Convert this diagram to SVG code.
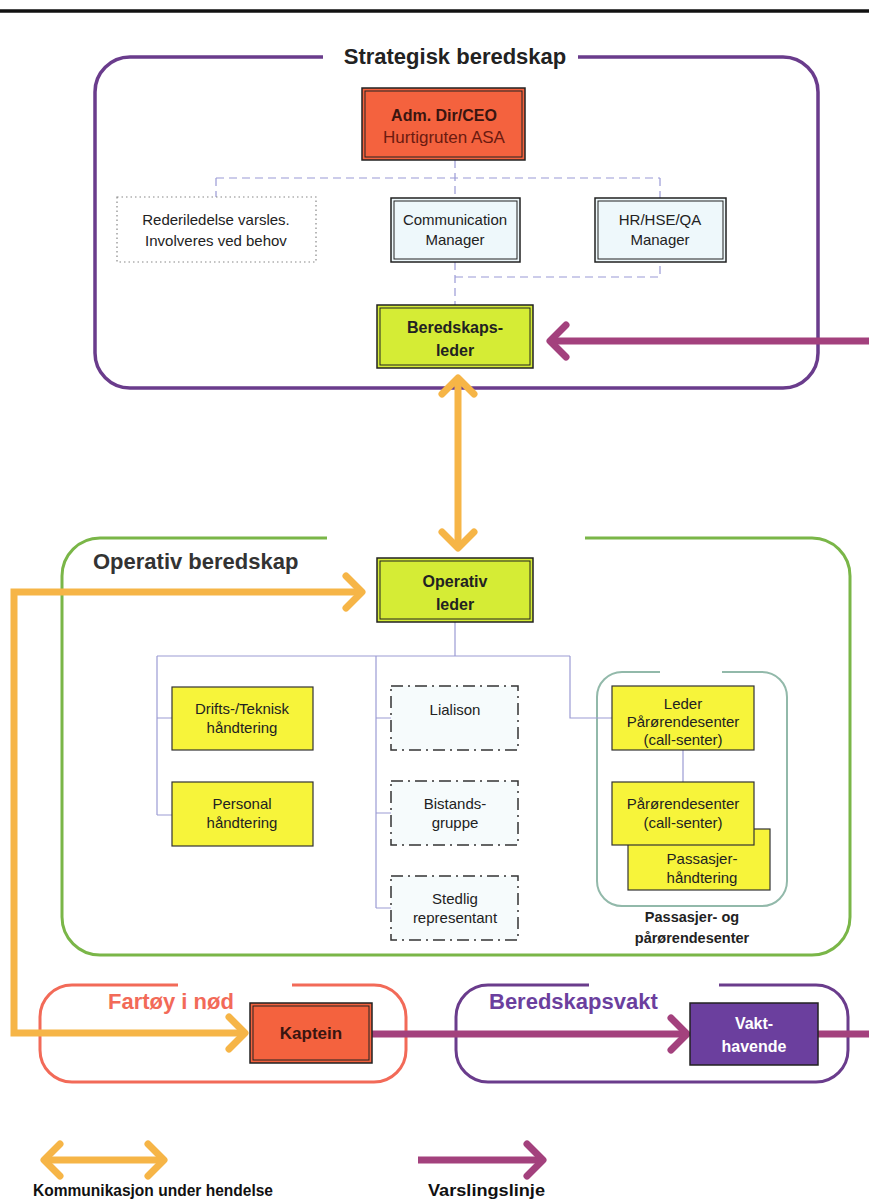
<svg xmlns="http://www.w3.org/2000/svg" width="869" height="1200" viewBox="0 0 869 1200">
<style>
text{font-family:"Liberation Sans",Arial,sans-serif;text-anchor:middle}
.t14{font-size:15px;fill:#222}
.b16{font-size:16px;font-weight:bold;fill:#222}
.title{font-size:22px;font-weight:bold}
.dbl{stroke:#222;stroke-width:1.5}
.inner{fill:none;stroke:#222;stroke-width:1}
.tree{fill:none;stroke:#9c9cd4;stroke-width:1.2}
.dash{fill:none;stroke:#9a9ad6;stroke-width:1.2;stroke-dasharray:8 5}
.orange{fill:none;stroke:#f6b547;stroke-width:7}
.magenta{fill:none;stroke:#a3417d;stroke-width:7}
.yellow{fill:#f7f43a;stroke:#333;stroke-width:1.2}
.dashdot{fill:#f6fbfc;stroke:#333;stroke-width:1.5;stroke-dasharray:12 5 2 5}
.lime{fill:#d5ec35}
.red{fill:#f4623e}
.lblue{fill:#eef8fb}
</style>
<defs>
<marker id="chevO" markerUnits="userSpaceOnUse" markerWidth="1" markerHeight="1" refX="0" refY="0" orient="auto-start-reverse" overflow="visible">
<path d="M-16 -16 L0 0 L-16 16" fill="none" stroke="#f6b547" stroke-width="7" stroke-linecap="round" stroke-linejoin="round"/>
</marker>
<marker id="chevM" markerUnits="userSpaceOnUse" markerWidth="1" markerHeight="1" refX="0" refY="0" orient="auto" overflow="visible">
<path d="M-16 -16 L0 0 L-16 16" fill="none" stroke="#a3417d" stroke-width="7" stroke-linecap="round" stroke-linejoin="round"/>
</marker>
</defs>
<rect width="869" height="1200" fill="#fff"/>
<line x1="0" y1="11" x2="869" y2="11" stroke="#111" stroke-width="3.5"/>

<g id="strategisk-beredskap">
<path d="M578 57 H783 A35 35 0 0 1 818 92 V353 A35 35 0 0 1 783 388 H130 A35 35 0 0 1 95 353 V92 A35 35 0 0 1 130 57 H323" fill="none" stroke="#6a3c8c" stroke-width="3.5"/>
<text class="title" x="455" y="64" fill="#222">Strategisk beredskap</text>
</g>
<g id="operativ-beredskap">
<path d="M585 538 H812 A38 38 0 0 1 850 576 V917 A38 38 0 0 1 812 955 H100 A38 38 0 0 1 62 917 V576 A38 38 0 0 1 100 538 H327" fill="none" stroke="#7ab648" stroke-width="3"/>
<text class="title" x="93" y="569" fill="#333" style="text-anchor:start">Operativ beredskap</text>
</g>
<g id="passasjer-gruppe">
<path d="M722 672 H762 A25 25 0 0 1 787 697 V881 A25 25 0 0 1 762 906 H622 A25 25 0 0 1 597 881 V697 A25 25 0 0 1 622 672 H660" fill="none" stroke="#92b9aa" stroke-width="2"/>
<text x="692" y="922" style="font-size:14.5px;font-weight:bold;fill:#222">Passasjer- og</text>
<text x="692" y="943" style="font-size:14.5px;font-weight:bold;fill:#222">pårørendesenter</text>
</g>
<g id="fartoy-i-nod">
<path d="M292 985 H374 A32 32 0 0 1 406 1017 V1050 A32 32 0 0 1 374 1082 H72 A32 32 0 0 1 40 1050 V1017 A32 32 0 0 1 72 985 H178" fill="none" stroke="#f26a58" stroke-width="3"/>
<text class="title" x="108" y="1009" fill="#f26a58" style="text-anchor:start">Fartøy i nød</text>
</g>
<g id="beredskapsvakt">
<path d="M719 985 H816 A32 32 0 0 1 848 1017 V1050 A32 32 0 0 1 816 1082 H488 A32 32 0 0 1 456 1050 V1017 A32 32 0 0 1 488 985 H589" fill="none" stroke="#6a3c8c" stroke-width="3"/>
<text class="title" x="489" y="1009" fill="#6b3f9e" style="text-anchor:start">Beredskapsvakt</text>
</g>

<g id="connectors">
<path class="dash" d="M455 160 V198 M216 178 H660 M216 178 V197 M660 178 V198 M455 262 V305 M455 277 H660 V262"/>
<path class="tree" d="M455 622 V656 M157 656 H570 M157 656 V815 M157 718 H172 M157 815 H172 M376 656 V908 M376 718 H391 M376 813 H391 M376 908 H391 M570 656 V718 H612 M683 750 V782"/>
<path class="orange" d="M458 378 V548" marker-start="url(#chevO)" marker-end="url(#chevO)"/>
<path class="orange" d="M362 592 H14 V1033 H245" marker-start="url(#chevO)" marker-end="url(#chevO)" stroke-linejoin="miter"/>
<path class="magenta" d="M880 341 H550" marker-end="url(#chevM)"/>
<path class="magenta" d="M372 1034 H687" marker-end="url(#chevM)"/>
<path class="magenta" d="M818 1034 H880"/>
</g>

<g id="ceo">
<rect class="red dbl" x="362" y="88" width="163" height="72"/>
<rect class="inner" x="365" y="91" width="157" height="66"/>
<text class="b16" x="444" y="121" style="fill:#3a1510">Adm. Dir/CEO</text>
<text x="444" y="143" style="font-size:17px;fill:#6b1a10">Hurtigruten ASA</text>
</g>
<g id="rederiledelse">
<rect x="117" y="197" width="199" height="65" fill="#fff" stroke="#888" stroke-width="1.2" stroke-dasharray="1.5 3"/>
<text class="t14" x="216" y="225">Rederiledelse varsles.</text>
<text class="t14" x="216" y="246">Involveres ved behov</text>
</g>
<g id="communication-manager">
<rect class="lblue dbl" x="391" y="198" width="129" height="64"/>
<rect class="inner" x="394" y="201" width="123" height="58"/>
<text class="t14" x="455" y="225">Communication</text>
<text class="t14" x="455" y="245">Manager</text>
</g>
<g id="hr-manager">
<rect class="lblue dbl" x="595" y="198" width="131" height="64"/>
<rect class="inner" x="598" y="201" width="125" height="58"/>
<text class="t14" x="660" y="225">HR/HSE/QA</text>
<text class="t14" x="660" y="245">Manager</text>
</g>
<g id="beredskapsleder">
<rect class="lime dbl" x="377" y="305" width="156" height="63"/>
<rect class="inner" x="380" y="308" width="150" height="57"/>
<text class="b16" x="455" y="333">Beredskaps-</text>
<text class="b16" x="455" y="356">leder</text>
</g>
<g id="operativ-leder">
<rect class="lime dbl" x="377" y="558" width="156" height="64"/>
<rect class="inner" x="380" y="561" width="150" height="58"/>
<text class="b16" x="455" y="587">Operativ</text>
<text class="b16" x="455" y="610">leder</text>
</g>
<g id="drifts">
<rect class="yellow" x="172" y="687" width="141" height="63"/>
<text class="t14" x="242" y="714">Drifts-/Teknisk</text>
<text class="t14" x="242" y="733">håndtering</text>
</g>
<g id="personal">
<rect class="yellow" x="172" y="782" width="141" height="64"/>
<text class="t14" x="242" y="809">Personal</text>
<text class="t14" x="242" y="828">håndtering</text>
</g>
<g id="lialison">
<rect class="dashdot" x="391" y="686" width="127" height="64"/>
<text class="t14" x="455" y="715">Lialison</text>
</g>
<g id="bistandsgruppe">
<rect class="dashdot" x="391" y="781" width="127" height="64"/>
<text class="t14" x="455" y="809">Bistands-</text>
<text class="t14" x="455" y="828">gruppe</text>
</g>
<g id="stedlig">
<rect class="dashdot" x="391" y="876" width="127" height="64"/>
<text class="t14" x="455" y="904">Stedlig</text>
<text class="t14" x="455" y="923">representant</text>
</g>
<g id="leder-parorendesenter">
<rect class="yellow" x="612" y="686" width="142" height="64"/>
<text class="t14" x="683" y="709">Leder</text>
<text class="t14" x="683" y="727">Pårørendesenter</text>
<text class="t14" x="683" y="745">(call-senter)</text>
</g>
<g id="passasjerhandtering">
<rect class="yellow" x="628" y="829" width="142" height="61"/>
<text class="t14" x="702" y="864">Passasjer-</text>
<text class="t14" x="702" y="883">håndtering</text>
</g>
<g id="parorendesenter">
<rect class="yellow" x="612" y="782" width="142" height="63"/>
<text class="t14" x="683" y="809">Pårørendesenter</text>
<text class="t14" x="683" y="828">(call-senter)</text>
</g>
<g id="kaptein">
<rect class="red dbl" x="250" y="1003" width="122" height="60"/>
<rect class="inner" x="253" y="1006" width="116" height="54"/>
<text x="311" y="1039" style="font-size:17px;font-weight:bold;fill:#3a1510">Kaptein</text>
</g>
<g id="vakthavende">
<rect x="690" y="1003" width="128" height="62" fill="#6b3f9e" stroke="#222" stroke-width="1.5"/>
<text x="754" y="1029" style="font-size:16px;font-weight:bold;fill:#fff">Vakt-</text>
<text x="754" y="1052" style="font-size:16px;font-weight:bold;fill:#fff">havende</text>
</g>

<g id="legend">
<path class="orange" d="M44 1160 H164" marker-start="url(#chevO)" marker-end="url(#chevO)"/>
<path class="magenta" d="M418 1160 H543" marker-end="url(#chevM)"/>
<text x="33" y="1196" textLength="240" lengthAdjust="spacingAndGlyphs" style="text-anchor:start;font-size:17px;font-weight:bold;fill:#111">Kommunikasjon under hendelse</text>
<text x="428" y="1196" textLength="117" lengthAdjust="spacingAndGlyphs" style="text-anchor:start;font-size:17px;font-weight:bold;fill:#111">Varslingslinje</text>
</g>
</svg>
